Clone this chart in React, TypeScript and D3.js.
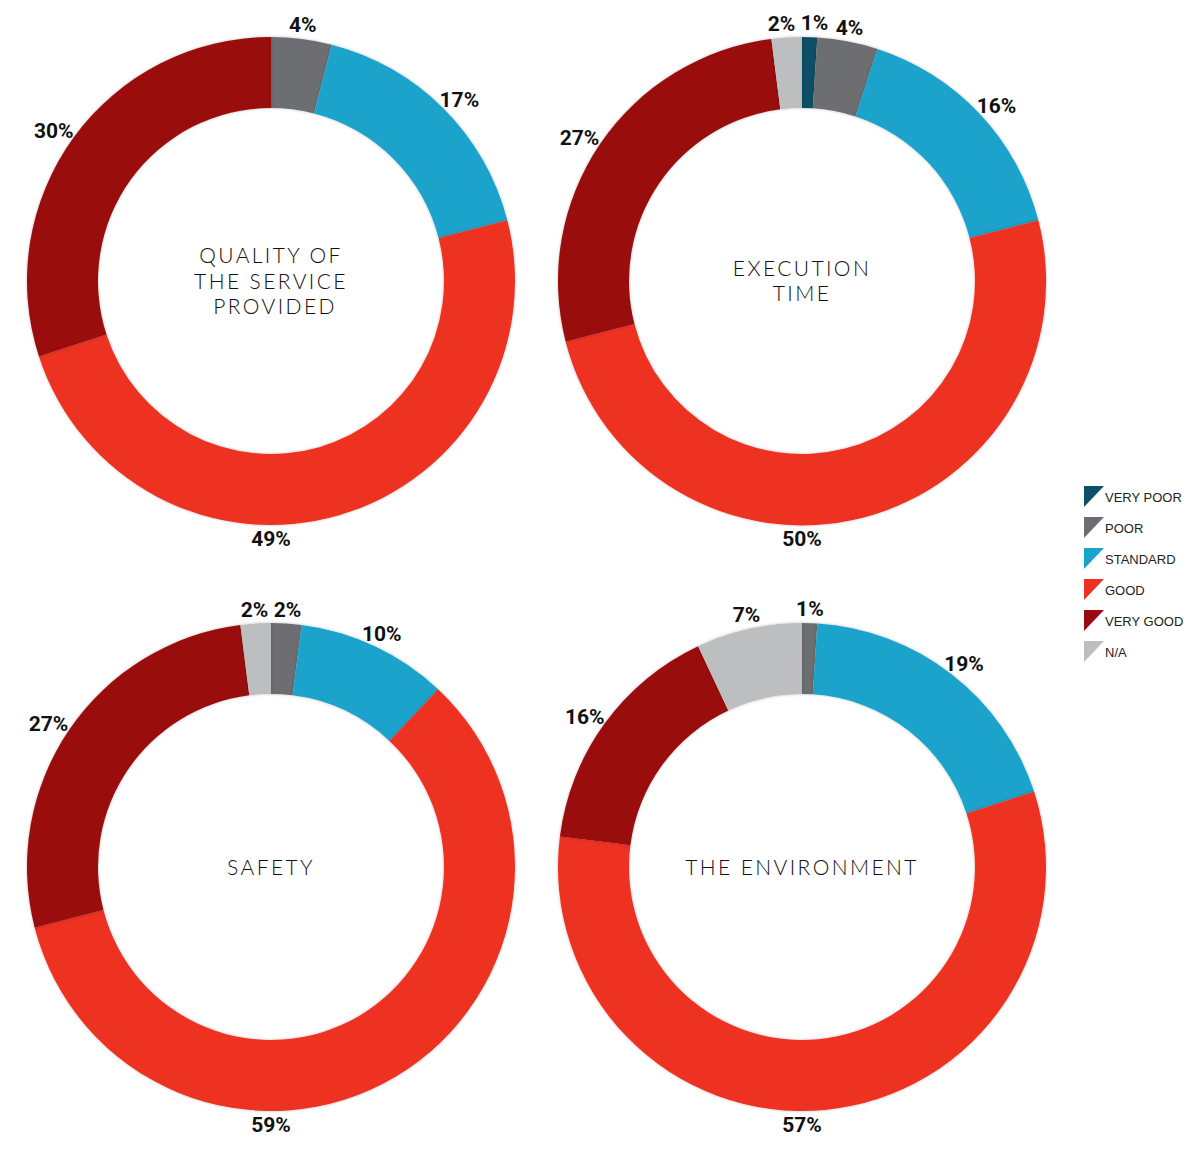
import React from "react";
import * as d3 from "d3";

const categories = ["VERY POOR", "POOR", "STANDARD", "GOOD", "VERY GOOD", "N/A"];
const colors = ["#0c4f66", "#6d6e71", "#1ca3cc", "#ee3124", "#990b11", "#bcbec0"];

const quality = [0, 4, 17, 49, 30, 0];
const execution = [1, 4, 16, 50, 27, 2];
const safety = [0, 2, 10, 59, 27, 2];
const environment = [0, 1, 19, 57, 16, 7];

const titles = [
  ["QUALITY OF", "THE SERVICE", " PROVIDED"],
  ["EXECUTION", "TIME"],
  ["SAFETY"],
  ["THE ENVIRONMENT"],
];
const seriesList = [quality, execution, safety, environment];

const W = 1187;
const H = 1162;
const outerR = 244;
const innerR = 173;
const pad = 7;
const halfH = 7;
const colX = d3.scalePoint().domain(["0", "1"]).range([271, 802]);
const rowY = d3.scalePoint().domain(["0", "1"]).range([281, 867]);

type Lab = { x: number; y: number; w: number; text: string; key: number };

function Donut({ values, title, cx, cy }: { values: number[]; title: string[]; cx: number; cy: number }) {
  const pie = d3.pie<number>().sort(null).value((d) => d);
  const arcs = pie(values);
  const arc = d3.arc<d3.PieArcDatum<number>>().innerRadius(innerR).outerRadius(outerR);
  const lineH = 25.5;

  const labels: Lab[] = [];
  arcs.forEach((a, i) => {
    if (a.value <= 0) return;
    let ang = (a.startAngle + a.endAngle) / 2;
    if (a.startAngle <= Math.PI && a.endAngle >= Math.PI) ang = Math.PI;
    const s = Math.sin(ang);
    const c = -Math.cos(ang);
    const text = `${a.value}%`;
    const w = text.length * 14.5;
    const r = outerR + pad;
    labels.push({
      x: s * r + s * (w / 2) * Math.abs(s),
      y: c * r + c * halfH * Math.abs(c),
      w,
      text,
      key: i,
    });
  });
  // simple horizontal de-overlap
  for (let it = 0; it < 20; it++) {
    for (let i = 0; i < labels.length; i++) {
      for (let j = i + 1; j < labels.length; j++) {
        const A = labels[i];
        const B = labels[j];
        if (Math.abs(A.y - B.y) > 18) continue;
        const need = (A.w + B.w) / 2 + 4;
        const dx = B.x - A.x;
        if (Math.abs(dx) < need) {
          const push = (need - Math.abs(dx)) / 2;
          const sgn = dx >= 0 ? 1 : -1;
          A.x -= sgn * push;
          B.x += sgn * push;
        }
      }
    }
  }

  return (
    <g transform={`translate(${cx},${cy})`}>
      {arcs.map((a, i) =>
        a.value > 0 ? (
          <path key={i} d={arc(a) || ""} fill={colors[i]} filter="url(#shade)" />
        ) : null
      )}
      {labels.map((l) => (
        <text
          key={"l" + l.key}
          x={l.x}
          y={l.y}
          textAnchor="middle"
          dominantBaseline="central"
          fontFamily="Roboto, Lato, sans-serif"
          fontWeight={700}
          fontSize={21}
          fill="#111"
        >
          {l.text}
        </text>
      ))}
      {title.map((t, i) => (
        <text
          key={"t" + i}
          x={0}
          y={(i - (title.length - 1) / 2) * lineH - 1}
          textAnchor="middle"
          dominantBaseline="central"
          fontFamily="Lato, sans-serif"
          fontWeight={300}
          fontSize={21}
          letterSpacing={2.4}
          fill="#111"
          style={{ whiteSpace: "pre" }}
        >
          {t}
        </text>
      ))}
    </g>
  );
}

export default function App() {
  const legendY = d3.scaleLinear().domain([0, 1]).range([497, 528]);
  return (
    <svg width={W} height={H} style={{ position: "absolute", left: 0, top: 0, background: "#fff" }}>
      <defs>
        <filter id="shade" x="-10%" y="-10%" width="120%" height="120%">
          <feDropShadow dx="0" dy="0" stdDeviation="1.5" floodColor="#000" floodOpacity="0.25" />
        </filter>
      </defs>
      {seriesList.map((vals, k) => (
        <Donut
          key={k}
          values={vals}
          title={titles[k]}
          cx={colX(String(k % 2)) as number}
          cy={rowY(String(Math.floor(k / 2))) as number}
        />
      ))}
      <g>
        {categories.map((c, i) => {
          const y = legendY(i);
          const x = 1084;
          return (
            <g key={c}>
              <path d={`M${x},${y - 11}L${x + 20},${y - 11}L${x},${y + 10}Z`} fill={colors[i]} />
              <text
                x={x + 21}
                y={y + 5}
                fontFamily="'Liberation Sans', Arial, sans-serif"
                fontSize={13}
                fill="#222"
              >
                {c}
              </text>
            </g>
          );
        })}
      </g>
    </svg>
  );
}
